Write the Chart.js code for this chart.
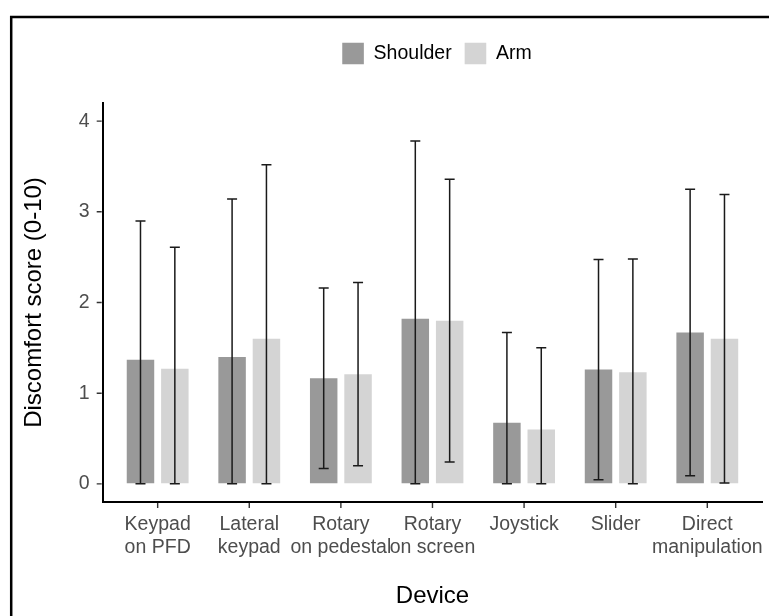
<!DOCTYPE html>
<html>
<head>
<meta charset="utf-8">
<script src="https://cdn.jsdelivr.net/npm/chart.js@4"></script>
<style>
  html, body { margin: 0; padding: 0; background: #fff; }
  canvas { display: block; }
</style>
</head>
<body>
<canvas id="deviceChart" width="769" height="616"></canvas>
<script>
var devices = [
  ["Keypad", "on PFD"],
  ["Lateral", "keypad"],
  ["Rotary", "on pedestal"],
  ["Rotary", "on screen"],
  "Joystick",
  "Slider",
  ["Direct", "manipulation"]
];
var shoulderMean = [1.37, 1.40, 1.165, 1.82, 0.675, 1.26, 1.67];
var shoulderSd = [1.53, 1.74, 0.995, 1.96, 0.995, 1.215, 1.58];
var armMean = [1.27, 1.60, 1.21, 1.80, 0.60, 1.23, 1.60];
var armSd = [1.34, 1.92, 1.01, 1.56, 0.90, 1.25, 1.59];
var yTicks = [0, 1, 2, 3, 4];

Chart.defaults.font.family = '"Liberation Sans", Arial, sans-serif';

function points(values) {
  return values.map(function (v, i) { return { x: i, y: v }; });
}

// mean +/- sd, bottom end cut off at zero
var errorBars = {
  id: "errorBars",
  afterDatasetsDraw: function (chart) {
    var ctx = chart.ctx;
    var y = chart.scales.y;
    var sds = [shoulderSd, armSd];
    ctx.save();
    ctx.strokeStyle = "#1a1a1a";
    ctx.lineWidth = 1.5;
    chart.data.datasets.forEach(function (ds, i) {
      var meta = chart.getDatasetMeta(i);
      meta.data.forEach(function (bar, j) {
        var m = ds.data[j].y;
        var lo = y.getPixelForValue(Math.max(0, m - sds[i][j]));
        var hi = y.getPixelForValue(m + sds[i][j]);
        var half = 5;
        ctx.beginPath();
        ctx.moveTo(bar.x, lo);
        ctx.lineTo(bar.x, hi);
        ctx.moveTo(bar.x - half, lo);
        ctx.lineTo(bar.x + half, lo);
        ctx.moveTo(bar.x - half, hi);
        ctx.lineTo(bar.x + half, hi);
        ctx.stroke();
      });
    });
    ctx.restore();
  }
};

// short tick marks outside both axes
var axisTicks = {
  id: "axisTicks",
  afterDraw: function (chart) {
    var ctx = chart.ctx;
    var xs = chart.scales.x, ys = chart.scales.y;
    var area = chart.chartArea;
    ctx.save();
    ctx.strokeStyle = "#333";
    ctx.lineWidth = 1.4;
    ctx.beginPath();
    xs.ticks.forEach(function (t, i) {
      var px = xs.getPixelForTick(i);
      ctx.moveTo(px, area.bottom + 1);
      ctx.lineTo(px, area.bottom + 6);
    });
    ys.ticks.forEach(function (t, i) {
      var py = ys.getPixelForTick(i);
      ctx.moveTo(area.left - 1, py);
      ctx.lineTo(area.left - 6, py);
    });
    ctx.stroke();
    ctx.restore();
  }
};

// legend sits higher and a bit right of the default spot
var legendPlace = {
  id: "legendPlace",
  afterLayout: function (chart) {
    var lg = chart.legend;
    lg.left += 48;
    lg.right += 48;
    lg.top -= 28.7;
    lg.bottom -= 28.7;
  }
};

// outer frame around the figure
var frame = {
  id: "frame",
  beforeDraw: function (chart) {
    var ctx = chart.ctx;
    ctx.save();
    ctx.strokeStyle = "#000";
    ctx.lineWidth = 2.5;
    ctx.beginPath();
    ctx.moveTo(11.2, 700);
    ctx.lineTo(11.2, 17);
    ctx.lineTo(800, 17);
    ctx.stroke();
    ctx.restore();
  }
};

var chart = new Chart(document.getElementById("deviceChart").getContext("2d"), {
  type: "bar",
  data: {
    datasets: [
      {
        label: "Shoulder",
        data: points(shoulderMean),
        backgroundColor: "#999999",
        borderWidth: 0
      },
      {
        label: "Arm",
        data: points(armMean),
        backgroundColor: "#d4d4d4",
        borderWidth: 0
      }
    ]
  },
  options: {
    responsive: false,
    animation: false,
    categoryPercentage: 0.75,
    barPercentage: 0.8,
    layout: { padding: { top: 58.4, left: 14, right: 5, bottom: 0 } },
    plugins: {
      tooltip: { enabled: false },
      legend: {
        position: "top",
        labels: {
          boxWidth: 21.6,
          boxHeight: 21.6,
          padding: 13,
          color: "#000",
          font: { size: 19.5 }
        }
      }
    },
    scales: {
      x: {
        type: "linear",
        min: -0.6,
        max: 6.6,
        offset: false,
        afterBuildTicks: function (scale) {
          scale.ticks = devices.map(function (d, i) { return { value: i }; });
        },
        afterFit: function (scale) { scale.height = 114; },
        ticks: {
          autoSkip: false,
          maxRotation: 0,
          minRotation: 0,
          padding: 6,
          color: "#4d4d4d",
          font: { size: 19.5 },
          callback: function (v) { return devices[v]; }
        },
        grid: {
          offset: false,
          drawOnChartArea: false,
          drawTicks: true,
          tickLength: 5,
          tickColor: "rgba(0,0,0,0)"
        },
        border: { display: true, color: "#000", width: 2 },
        title: {
          display: true,
          text: "Device",
          color: "#000",
          font: { size: 24 },
          padding: { top: 0, bottom: 5 }
        }
      },
      y: {
        min: -0.2,
        max: 4.2,
        afterBuildTicks: function (scale) {
          scale.ticks = yTicks.map(function (v) { return { value: v }; });
        },
        afterFit: function (scale) { scale.width = 88.7; },
        ticks: {
          padding: 8,
          color: "#4d4d4d",
          font: { size: 19.5 }
        },
        grid: {
          drawOnChartArea: false,
          drawTicks: true,
          tickLength: 5,
          tickColor: "rgba(0,0,0,0)"
        },
        border: { display: true, color: "#000", width: 2 },
        title: {
          display: true,
          text: "Discomfort score (0-10)",
          color: "#000",
          font: { size: 24 },
          padding: { top: 5.6, bottom: 0 }
        }
      }
    }
  },
  plugins: [errorBars, axisTicks, legendPlace, frame]
});
</script>
</body>
</html>
